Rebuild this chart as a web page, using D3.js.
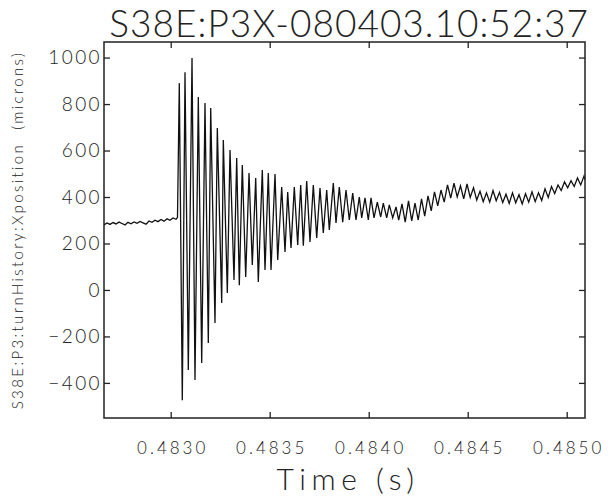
<!DOCTYPE html>
<html>
<head>
<meta charset="utf-8">
<script src="https://cdn.jsdelivr.net/npm/d3@7"></script>
<style>
  body { margin: 0; background: #fff; }
  svg text { font-family: Lato, "DejaVu Sans", sans-serif; font-weight: 300; fill: #222; }
</style>
</head>
<body>
<svg width="614" height="496"></svg>
<script>
// Axis ticks
var xTicks = [0.4830, 0.4835, 0.4840, 0.4845, 0.4850];
var yTicks = [-400, -200, 0, 200, 400, 600, 800, 1000];

// Quiet orbit before the kick
var timeBefore = [0.4826631, 0.4826783, 0.4826934, 0.4827086, 0.4827237, 0.4827389, 0.4827540,
  0.4827692, 0.4827843, 0.4827995, 0.4828146, 0.4828298, 0.4828450, 0.4828601, 0.4828753,
  0.4828904, 0.4829056, 0.4829207, 0.4829359, 0.4829510, 0.4829662, 0.4829813, 0.4829965,
  0.4830116, 0.4830268, 0.4830343];
var posBefore = [280, 288, 282, 290, 284, 292, 286, 280, 291, 285, 293, 287, 295, 289, 283,
  297, 291, 300, 294, 303, 296, 306, 300, 310, 304, 312];

// Kick: large swings (peaks / troughs)
var timeKick = [0.4830434, 0.4830586, 0.4830722, 0.4830889, 0.4831076, 0.4831227, 0.4831394,
  0.4831566, 0.4831732, 0.4831899, 0.4832020, 0.4832237, 0.4832354, 0.4832576, 0.4832657,
  0.4832859, 0.4832995, 0.4833197, 0.4833333, 0.4833465];
var posKick = [890, -475, 937, -344, 998, -387, 830, -314, 804, -228, 783, -142, 697, -56,
  645, -13, 602, 43, 568, 20];

// Damping
var timeDecay = [0.4833616, 0.4833788, 0.4833955, 0.4834121, 0.4834293, 0.4834424, 0.4834626,
  0.4834763, 0.4834929, 0.4835066, 0.4835268, 0.4835404, 0.4835606, 0.4835773, 0.4835909,
  0.4836076, 0.4836242, 0.4836414, 0.4836566, 0.4836697, 0.4836869, 0.4837035, 0.4837202,
  0.4837374, 0.4837540, 0.4837707, 0.4837879, 0.4838010, 0.4838212, 0.4838348, 0.4838515,
  0.4838687, 0.4838854, 0.4839020, 0.4839192, 0.4839359, 0.4839525, 0.4839646, 0.4839813,
  0.4839980, 0.4840116, 0.4840268, 0.4840434, 0.4840606, 0.4840737, 0.4840909, 0.4841040,
  0.4841212, 0.4841379, 0.4841515];
var posDecay = [538, 56, 503, 108, 482, 34, 516, 86, 503, 86, 499, 129, 443, 163, 421,
  181, 443, 194, 452, 190, 469, 206, 452, 224, 439, 245, 430, 258, 460, 288, 443,
  292, 430, 301, 417, 301, 400, 310, 396, 301, 396, 310, 378, 314, 374, 310, 366,
  310, 357, 301];

// Late residual oscillation
var timeLate = [0.4841682, 0.4841843, 0.4842010, 0.4842172, 0.4842338, 0.4842500, 0.4842667,
  0.4842828, 0.4842995, 0.4843157, 0.4843323, 0.4843485, 0.4843652, 0.4843813, 0.4843980,
  0.4844141, 0.4844308, 0.4844470, 0.4844636, 0.4844798, 0.4844965, 0.4845126, 0.4845293,
  0.4845455, 0.4845621, 0.4845783, 0.4845949, 0.4846111, 0.4846278, 0.4846439, 0.4846606,
  0.4846768, 0.4846934, 0.4847096, 0.4847262, 0.4847424, 0.4847591, 0.4847752, 0.4847919,
  0.4848081, 0.4848247, 0.4848409, 0.4848576, 0.4848737, 0.4848904, 0.4849066, 0.4849232,
  0.4849394, 0.4849561, 0.4849722, 0.4849889, 0.4850050, 0.4850217, 0.4850379, 0.4850545,
  0.4850707, 0.4850874, 0.4850924];
var posLate = [370, 292, 383, 297, 374, 301, 392, 318, 405, 340, 422, 362, 430, 378, 452,
  395, 460, 400, 448, 392, 456, 398, 440, 387, 425, 380, 418, 378, 428, 384, 420,
  376, 412, 372, 418, 375, 410, 370, 414, 378, 422, 380, 418, 385, 435, 398, 445,
  415, 452, 428, 465, 440, 470, 445, 482, 452, 490, 475];

var svg = d3.select("svg"),
  margin = { top: 42, right: 29, bottom: 78, left: 104 },
  width = 614 - margin.left - margin.right,
  height = 496 - margin.top - margin.bottom;

var g = svg.append("g")
  .attr("transform", "translate(" + margin.left + "," + margin.top + ")");

var times = timeBefore.concat(timeKick, timeDecay, timeLate);
var pos = posBefore.concat(posKick, posDecay, posLate);
var data = times.map(function (t, i) { return { t: t, v: pos[i] }; });

var x = d3.scaleLinear().domain([0.4826631, 0.4850924]).range([0, width]);
var y = d3.scaleLinear().domain([-551, 1067]).range([height, 0]);

// trace
g.append("path")
  .datum(data)
  .attr("fill", "none")
  .attr("stroke", "#111")
  .attr("stroke-width", 1.3)
  .attr("d", d3.line().x(d => x(d.t)).y(d => y(d.v)));

// axes, ticks pointing inward on all four sides
function styleAxis(sel) {
  sel.select(".domain").remove();
  sel.selectAll(".tick line").attr("stroke", "#222").attr("stroke-width", 1.3);
}

g.append("g")
  .attr("transform", "translate(0," + height + ")")
  .call(d3.axisBottom(x).tickValues(xTicks).tickSize(-6).tickPadding(24).tickFormat(d3.format(".4f")))
  .call(styleAxis)
  .selectAll("text")
  .style("font-size", "17px")
  .style("letter-spacing", "3px")
  .attr("dx", "1.5px");

g.append("g")
  .call(d3.axisTop(x).tickValues(xTicks).tickSize(-6).tickFormat(""))
  .call(styleAxis);

g.append("g")
  .call(d3.axisLeft(y).tickValues(yTicks).tickSize(-6).tickPadding(2).tickFormat(d3.format("d")))
  .call(styleAxis)
  .selectAll("text")
  .style("font-size", "19px")
  .style("letter-spacing", "2.4px");

g.append("g")
  .attr("transform", "translate(" + width + ",0)")
  .call(d3.axisRight(y).tickValues(yTicks).tickSize(-6).tickFormat(""))
  .call(styleAxis);

// frame
g.append("rect")
  .attr("width", width)
  .attr("height", height)
  .attr("fill", "none")
  .attr("stroke", "#222")
  .attr("stroke-width", 1.5);

// title
svg.append("text")
  .attr("x", 589)
  .attr("y", 37)
  .attr("text-anchor", "end")
  .style("font-size", "37px")
  .style("letter-spacing", "1px")
  .text("S38E:P3X-080403.10:52:37");

// x label
svg.append("text")
  .attr("x", 348)
  .attr("y", 490)
  .attr("text-anchor", "middle")
  .style("font-size", "30px")
  .style("letter-spacing", "5.5px")
  .text("Time (s)");

// y label
svg.append("text")
  .attr("transform", "translate(23," + (margin.top + height / 2) + ") rotate(-90)")
  .attr("text-anchor", "middle")
  .style("font-size", "15px")
  .style("letter-spacing", "2.4px")
  .style("white-space", "pre")
  .text("S38E:P3:turnHistory:Xposition  (microns)");
</script>
</body>
</html>
